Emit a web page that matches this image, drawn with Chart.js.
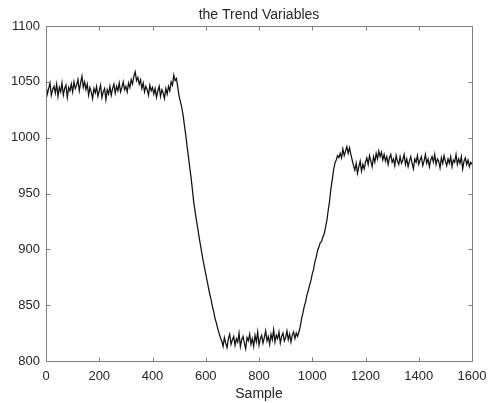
<!DOCTYPE html>
<html>
<head>
<meta charset="utf-8">
<script src="https://cdn.jsdelivr.net/npm/chart.js@4.4.0/dist/chart.umd.min.js"></script>
<style>
  html, body { margin: 0; padding: 0; background: #ffffff; }
  #wrap { width: 489px; height: 403px; position: relative; }
</style>
</head>
<body>
<div id="wrap"><canvas id="c"></canvas></div>
<script>
// Sample spacing of the values
const sampleStep = 5;

// Values, one every 5 samples, per segment
const flatHighStart = 0;
const flatHigh = [
  1047,1039,1044,1049,1038,1043,1046,1040,1048,1037,
  1045,1041,1049,1038,1044,1047,1036,1045,1042,1048,
  1041,1050,1044,1047,1052,1042,1049,1055,1045,1050,
  1043,1048,1038,1045,1041,1035,1044,1040,1046,1037,
  1042,1047,1036,1041,1044,1034,1043,1039,1046,1038,
  1044,1048,1040,1046,1042,1049,1041,1045,1050,1043,
  1046,1041,1049,1045,1052,1048,1055,1059,1051,1054,
  1048,1052,1044,1049,1041,1046,1043,1038,1047,1042,
  1045,1039,1044,1036,1042,1046,1037,1043,1040,1035,
  1044,1039,1046,1042,1050,1047,1056,1051,1053,1045
];

const dropStart = 500;
const drop = [
  1037,1032,1027,1020,1011,1002,992,983,973,964,
  953,942,934,926,919,911,904,897,890,884,
  878,872,866,860,855,849,844,838,834,829,
  825,821
];

const flatLowStart = 660;
const flatLow = [
  818,813,821,816,812,820,824,815,819,822,
  814,820,817,825,813,819,822,816,811,821,
  818,824,815,820,813,823,817,826,814,820,
  823,816,821,827,818,822,815,824,819,828,
  817,823,820,826,816,822,825,818,821,827,
  819,824,817,823,826,820,825,822
];

const riseStart = 950;
const rise = [
  826,831,838,843,849,853,859,863,868,872,
  878,882,889,893,899,902,906,907,911,914,
  920,926,935,943,954,962,971,977,980,984,
  982
];

const flatMidStart = 1105;
const flatMid = [
  986,982,990,984,988,992,986,991,985,980,
  975,971,977,968,974,979,970,976,972,978,
  982,976,984,979,974,983,978,986,981,988,
  983,987,980,985,979,983,976,982,985,978,
  981,975,984,979,976,983,977,980,985,976,
  981,974,979,983,977,972,981,978,984,976,
  980,983,975,979,985,977,981,974,980,983,
  978,985,976,981,979,973,982,977,984,979,
  975,981,977,983,974,980,978,985,976,981,
  977,983,972,979,982,976,980,974,978,976
];

const xTicks = [0, 200, 400, 600, 800, 1000, 1200, 1400, 1600];
const yTicks = [800, 850, 900, 950, 1000, 1050, 1100];

const segments = [
  [flatHighStart, flatHigh],
  [dropStart, drop],
  [flatLowStart, flatLow],
  [riseStart, rise],
  [flatMidStart, flatMid]
];
const points = [];
segments.forEach(([start, vals]) => {
  vals.forEach((v, i) => points.push({ x: start + i * sampleStep, y: v }));
});

const axisColor = '#7f7f7f';
const textColor = '#262626';
const fontFamily = '"Liberation Sans", Arial, Helvetica, sans-serif';

const boxPlugin = {
  id: 'matlabBox',
  afterDraw(chart) {
    const { ctx, chartArea: a, scales: { x, y } } = chart;
    const L = Math.round(a.left) + 0.5;
    const R = Math.round(a.right) + 0.5;
    const T = Math.round(a.top) + 0.5;
    const B = Math.round(a.bottom) + 0.5;
    const tl = 4;
    ctx.save();
    ctx.strokeStyle = axisColor;
    ctx.lineWidth = 1;
    ctx.beginPath();
    ctx.moveTo(L, T); ctx.lineTo(R, T); ctx.lineTo(R, B); ctx.lineTo(L, B); ctx.closePath();
    x.ticks.forEach(t => {
      const px = Math.round(x.getPixelForValue(t.value)) + 0.5;
      ctx.moveTo(px, B); ctx.lineTo(px, B - tl);
      ctx.moveTo(px, T); ctx.lineTo(px, T + tl);
    });
    y.ticks.forEach(t => {
      const py = Math.round(y.getPixelForValue(t.value)) + 0.5;
      ctx.moveTo(L, py); ctx.lineTo(L + tl, py);
      ctx.moveTo(R, py); ctx.lineTo(R - tl, py);
    });
    ctx.stroke();
    ctx.restore();
  }
};

new Chart(document.getElementById('c'), {
  type: 'line',
  data: {
    datasets: [{
      data: points,
      borderColor: '#111111',
      borderWidth: 1.25,
      pointRadius: 0,
      tension: 0,
      fill: false
    }]
  },
  options: {
    responsive: true,
    maintainAspectRatio: false,
    animation: false,
    parsing: false,
    layout: { padding: { left: 0, right: 17, top: 0, bottom: 0 } },
    plugins: {
      legend: { display: false },
      tooltip: { enabled: false },
      title: {
        display: true,
        text: 'the Trend Variables',
        fullSize: false,
        color: textColor,
        font: { family: fontFamily, size: 14, weight: 'normal', lineHeight: 1.2 },
        padding: { top: 6.6, bottom: 2.6 }
      }
    },
    scales: {
      x: {
        type: 'linear',
        min: 0,
        max: 1600,
        afterBuildTicks(scale) { scale.ticks = xTicks.map(v => ({ value: v })); },
        afterFit(scale) { scale.height = 42; scale.paddingLeft = 0; scale.paddingRight = 0; },
        grid: { display: false, drawTicks: false },
        border: { display: false },
        ticks: {
          color: textColor,
          padding: 8,
          maxRotation: 0,
          font: { family: fontFamily, size: 13 },
          callback: v => String(v)
        },
        title: {
          display: true,
          text: 'Sample',
          color: textColor,
          font: { family: fontFamily, size: 14 },
          padding: { top: 0, bottom: 0 }
        }
      },
      y: {
        type: 'linear',
        min: 800,
        max: 1100,
        afterBuildTicks(scale) { scale.ticks = yTicks.map(v => ({ value: v })); },
        afterFit(scale) { scale.width = 46; },
        grid: { display: false, drawTicks: false },
        border: { display: false },
        ticks: {
          color: textColor,
          padding: 6,
          font: { family: fontFamily, size: 13 },
          callback: v => String(v)
        }
      }
    }
  },
  plugins: [boxPlugin]
});
</script>
</body>
</html>
